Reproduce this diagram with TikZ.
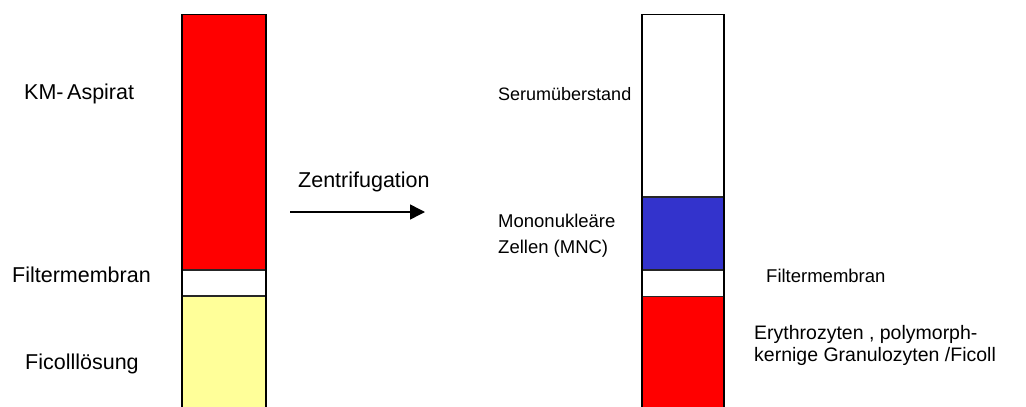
\documentclass[tikz,border=0pt]{standalone}
\usepackage{fontspec}
\setmainfont{Liberation Sans}
\usetikzlibrary{arrows.meta}

\definecolor{kmred}{HTML}{FF0000}
\definecolor{ficoll}{HTML}{FFFF99}
\definecolor{mnc}{HTML}{3333CC}

\begin{document}
\begin{tikzpicture}[x=1pt,y=-1pt,
		label text/.style={anchor=base west,inner sep=0pt,font=\fontsize{21.5}{25}\selectfont},
		small text/.style={label text,font=\fontsize{17.5}{21}\selectfont},
		mid text/.style={label text,font=\fontsize{19.5}{23}\selectfont},
		tube wall/.style={line width=1.6pt,black},
		layer line/.style={line width=1.3pt,black!85}]
		\useasboundingbox (0,0) rectangle (1026,407);

		% tube before centrifugation
		\fill[kmred] (182,14.5) rectangle (266,270);
		\fill[white] (182,270) rectangle (266,296);
		\fill[ficoll] (182,296) rectangle (266,407);
		\draw[layer line] (182,270) -- (266,270);
		\draw[layer line] (182,296) -- (266,296);
		\draw[tube wall] (182,407) |- (266,14.5) -- (266,407);

		% tube after centrifugation
		\fill[white] (642,14.5) rectangle (724,197);
		\fill[mnc] (642,197) rectangle (724,270);
		\fill[white] (642,270) rectangle (724,296.5);
		\fill[kmred] (642,296.5) rectangle (724,407);
		\draw[layer line] (642,197) -- (724,197);
		\draw[layer line] (642,270) -- (724,270);
		\draw[layer line] (642,296.5) -- (724,296.5);
		\draw[tube wall] (642,407) |- (724,14.5) -- (724,407);

		\node[label text] (aspirat) at (24,99) {KM-\,Aspirat};
		\node[label text] (filter1) at (12,282) {Filtermembran};
		\node[label text] (ficoll) at (25,369) {Ficolllösung};

		\node[label text] (zentri) at (298,187) {Zentrifugation};
		\coordinate (pfeilA) at (290,212);
		\coordinate (pfeilB) at (425,212);
		\draw[line width=1.5pt,-{Triangle[length=15pt,width=15pt]}] (pfeilA) -- (pfeilB);

		\node[small text,font=\fontsize{18}{21}\selectfont] (serum) at (498,100) {Serumüberstand};
		\node[small text,font=\fontsize{18.5}{21}\selectfont] (mono1) at (498,227) {Mononukleäre};
		\node[small text,font=\fontsize{18.5}{21}\selectfont] (mono2) at (498,253) {Zellen (MNC)};
		\node[small text,font=\fontsize{18.5}{21}\selectfont] (filter2) at (766,282) {Filtermembran};
		\node[mid text] (ery1) at (754,339) {Erythrozyten , polymorph-};
		\node[mid text] (ery2) at (754,361) {kernige Granulozyten /Ficoll};
\end{tikzpicture}
\end{document}
